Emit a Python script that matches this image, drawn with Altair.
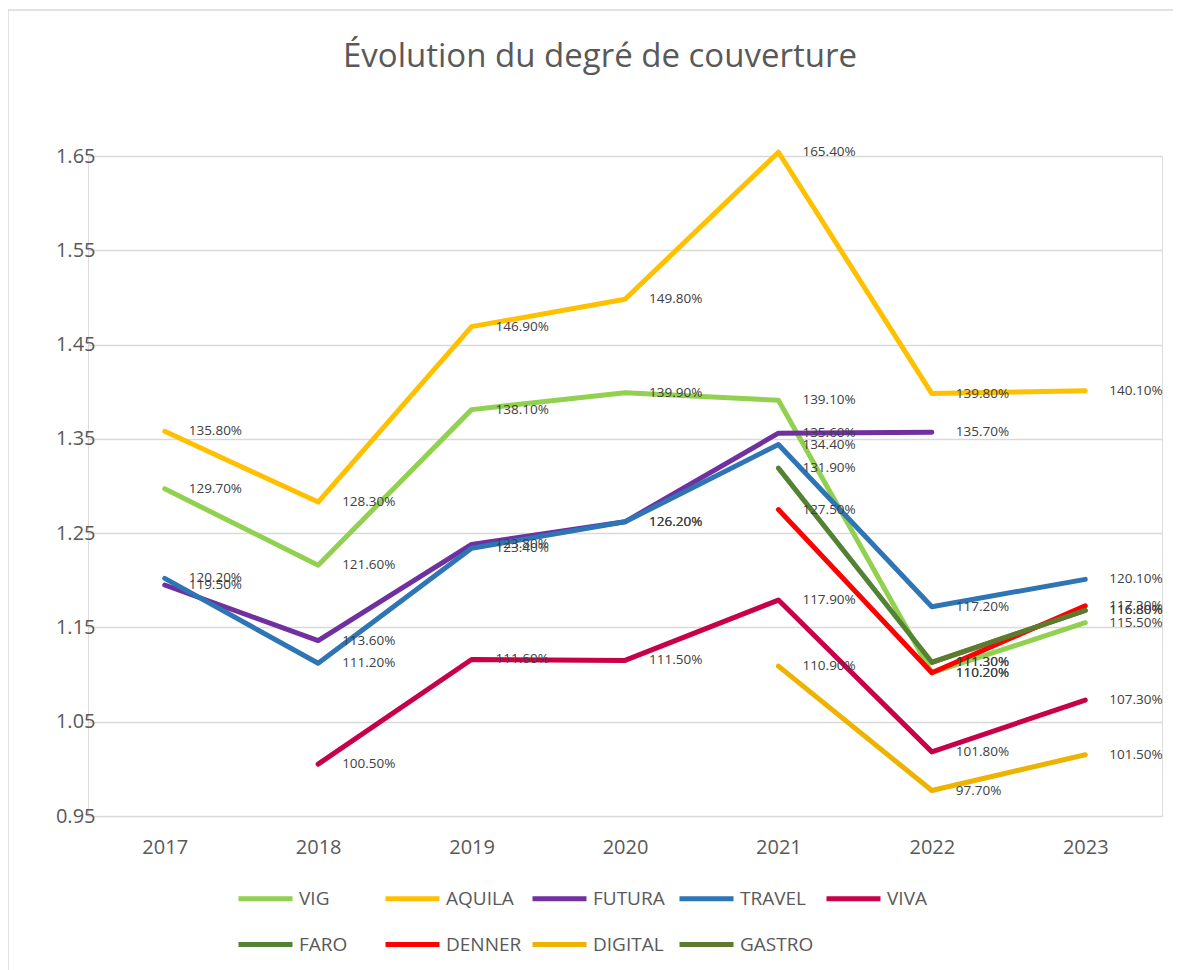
import altair as alt
import pandas as pd

years = ["2017", "2018", "2019", "2020", "2021", "2022", "2023"]
series_names = ["VIG", "AQUILA", "FUTURA", "TRAVEL", "VIVA", "FARO", "DENNER", "DIGITAL", "GASTRO"]
series_colors = ["#92D050", "#FFC000", "#7030A0", "#2E75B6", "#C8004A", "#548235", "#FF0000", "#EDB300", "#5E7A2E"]

vig     = [1.297, 1.216, 1.381, 1.399, 1.391, 1.102, 1.155]
aquila  = [1.358, 1.283, 1.469, 1.498, 1.654, 1.398, 1.401]
futura  = [1.195, 1.136, 1.238, 1.262, 1.356, 1.357, None]
travel  = [1.202, 1.112, 1.234, 1.262, 1.344, 1.172, 1.201]
viva    = [None, 1.005, 1.116, 1.115, 1.179, 1.018, 1.073]
faro    = [None, None, None, None, 1.319, 1.113, 1.168]
denner  = [None, None, None, None, 1.275, 1.102, 1.173]
digital = [None, None, None, None, 1.109, 0.977, 1.015]
gastro  = [None, None, None, None, None, 1.113, 1.168]

y_ticks = [0.95, 1.05, 1.15, 1.25, 1.35, 1.45, 1.55, 1.65]
title_text = "Évolution du degré de couverture"

all_series = [vig, aquila, futura, travel, viva, faro, denner, digital, gastro]
rows = []
for name, vals in zip(series_names, all_series):
    for yr, v in zip(years, vals):
        if v is not None:
            rows.append({"series": name, "year": yr, "value": v})
df = pd.DataFrame(rows)

FONT = "Open Sans"
W, H = 1074, 660
PL, PT, PR, PB = 80, 148, 11, 154

x_axis = alt.Axis(title=None, labelAngle=0, labelFontSize=20, labelColor="#595959", labelFont=FONT,
                  domain=False, ticks=False, grid=False, labelPadding=21)
y_axis = alt.Axis(title=None, values=y_ticks, format=".2f", labelFontSize=20, labelColor="#595959",
                  labelFont=FONT, domain=False, ticks=False, grid=True, gridColor="#D9D9D9",
                  gridWidth=1.5, labelPadding=-7)
x_enc = alt.X("year:N", sort=years, scale=alt.Scale(paddingInner=0, paddingOuter=0.5, domain=years), axis=x_axis)
y_enc = alt.Y("value:Q", scale=alt.Scale(domain=[0.95, 1.65], nice=False, zero=False), axis=y_axis)
color_enc = alt.Color("series:N", scale=alt.Scale(domain=series_names, range=series_colors),
                      legend=alt.Legend(title=None, orient="none", legendX=148, legendY=713, columns=5,
                                        direction="horizontal",
                                        symbolType="stroke", symbolSize=2916, symbolStrokeWidth=5,
                                        labelFontSize=19, labelFont=FONT, labelColor="#595959",
                                        labelOffset=4, rowPadding=6, columnPadding=0, gridAlign="all",
                                        padding=0))

lines = alt.Chart(df).mark_line(strokeWidth=5, strokeCap="round", strokeJoin="round").encode(
    x=x_enc, y=y_enc, color=color_enc, detail="series:N"
)

labels = alt.Chart(df).mark_text(align="left", baseline="middle", dx=24, fontSize=13.5, font=FONT,
                                 color="#404040").encode(
    x=alt.X("year:N", sort=years, axis=x_axis), y=alt.Y("value:Q", axis=y_axis),
    text=alt.Text("value:Q", format=".2%")
)

frame_df = pd.DataFrame({"f": [0]})
frame_top = alt.Chart(frame_df).mark_rule(stroke="#D9D9D9", strokeWidth=1.5).encode(
    x=alt.value(-80), x2=alt.value(W + PR + 20), y=alt.value(-146)
)
frame_left = alt.Chart(frame_df).mark_rule(stroke="#D9D9D9", strokeWidth=1.5).encode(
    x=alt.value(-80), y=alt.value(-146), y2=alt.value(H + PB + 10)
)

title = alt.Chart(pd.DataFrame({"t": [title_text]})).mark_text(
    fontSize=33, font=FONT, color="#595959", align="center", baseline="middle"
).encode(x=alt.value(512), y=alt.value(-99), text="t:N")

chart = alt.layer(frame_top, frame_left, lines, labels, title).properties(
    width=W, height=H,
    autosize=alt.AutoSizeParams(type="none"),
    padding={"left": PL, "top": PT, "right": PR, "bottom": PB},
).configure_view(stroke="transparent", strokeWidth=0).configure(background="white")

chart.save("out.html", embed_options={"renderer": "svg", "actions": False})
